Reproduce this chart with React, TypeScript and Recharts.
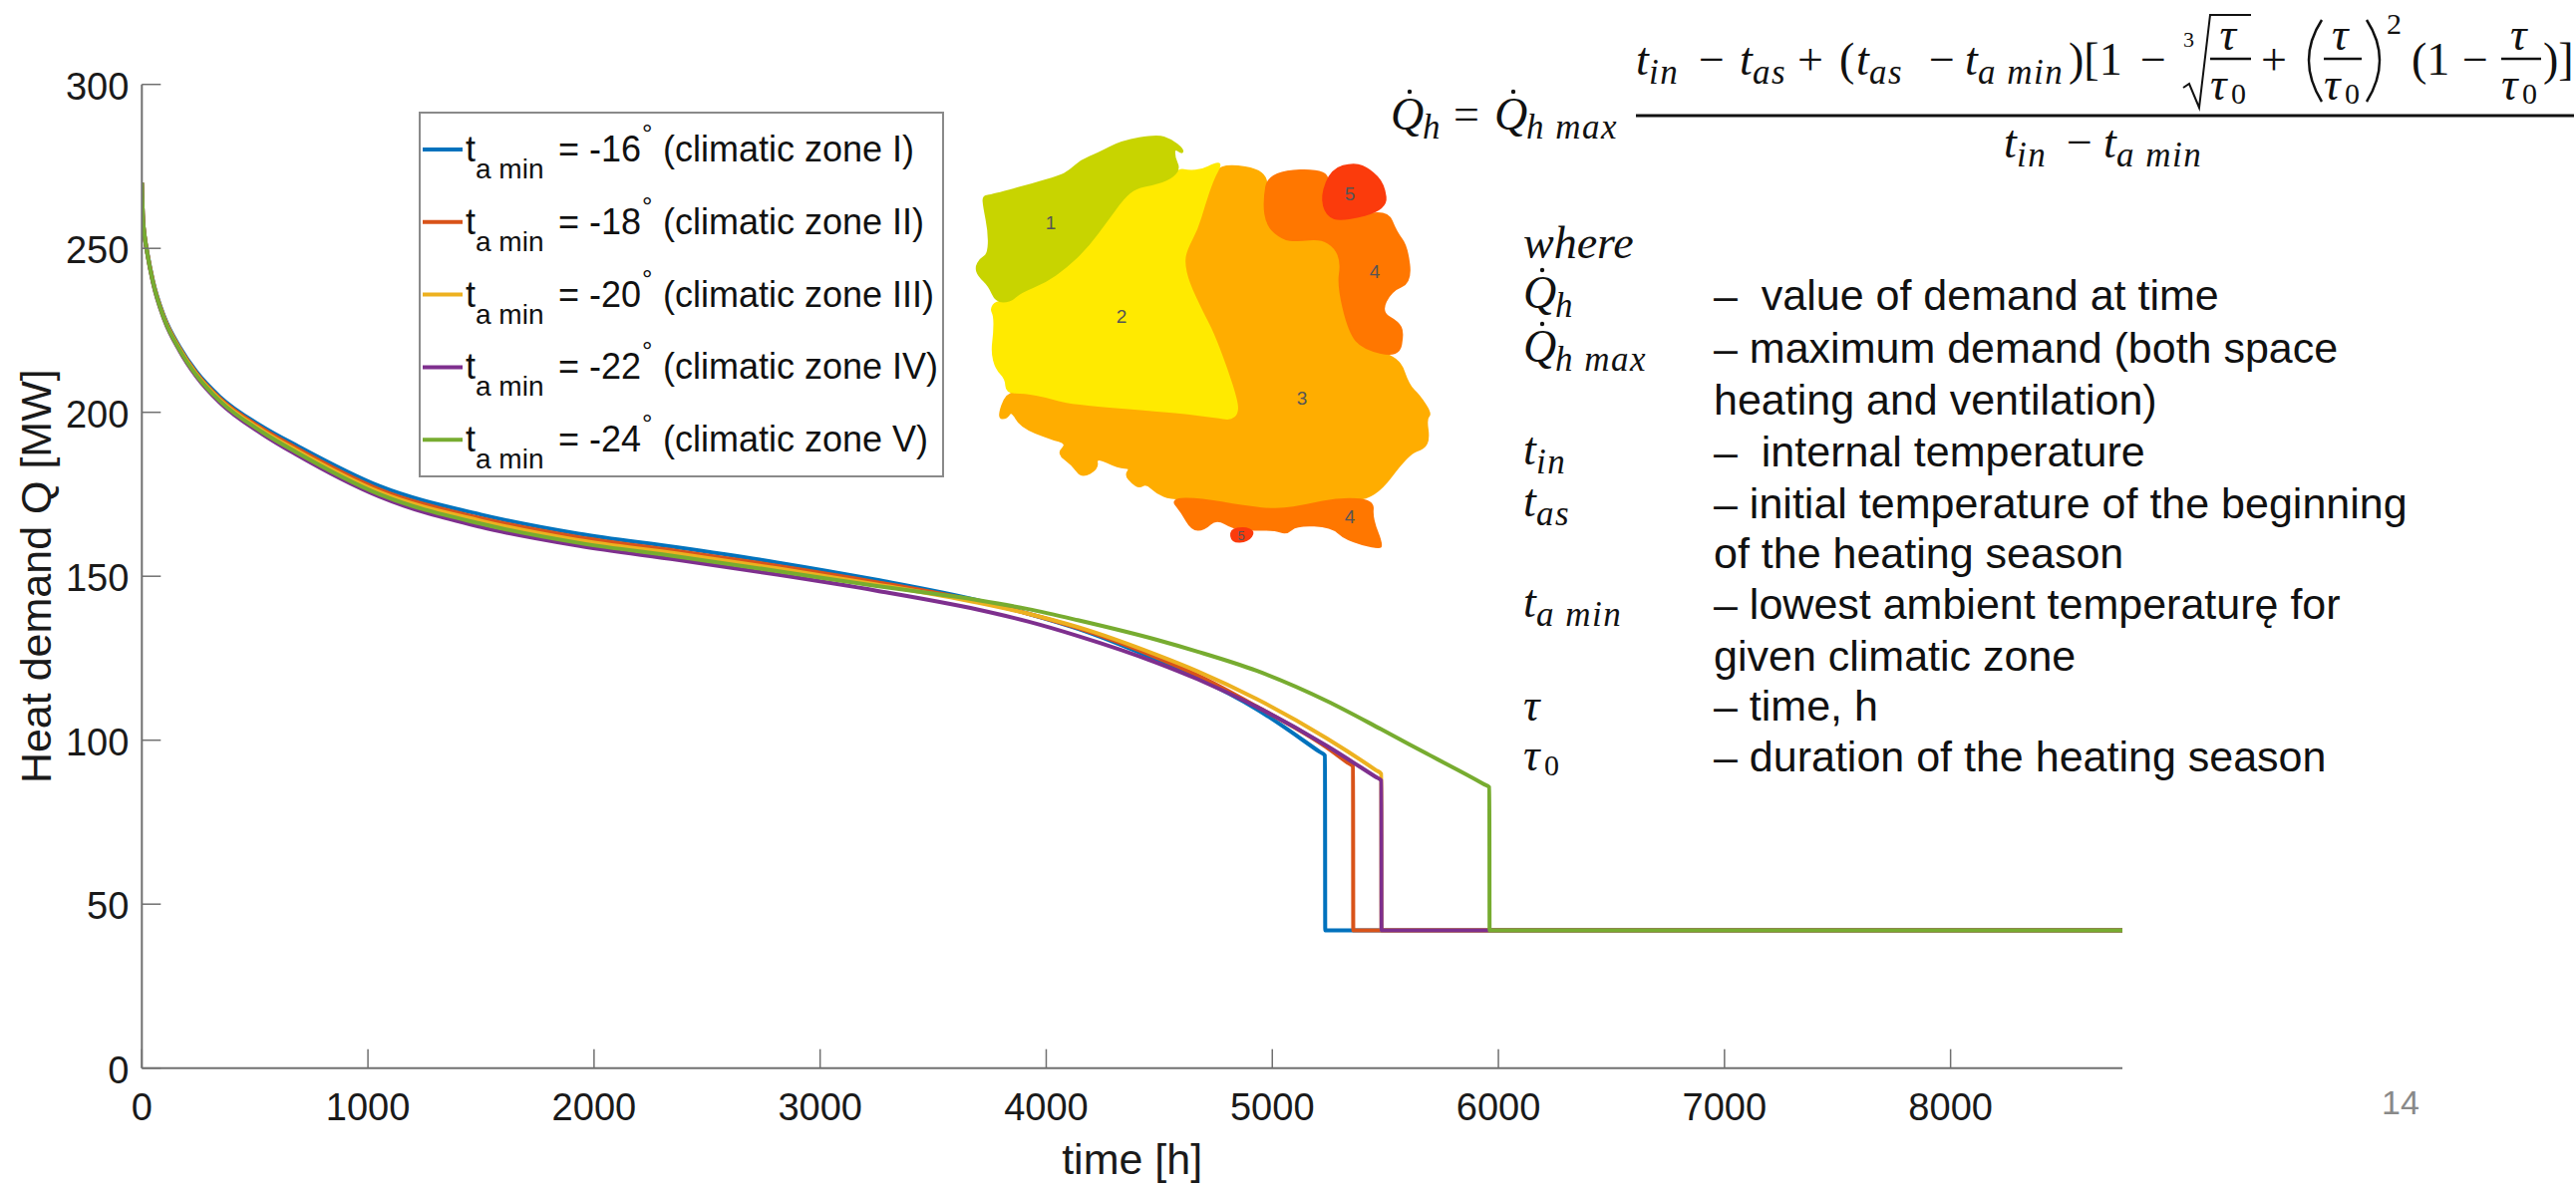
import React from 'react';
import { LineChart, Line, XAxis, YAxis, Legend } from 'recharts';

const curveTimes = [0, 4, 12, 20, 49, 100, 167, 240, 344, 534, 681, 1050, 1500, 1930, 2370, 2810, 3250, 3700, 3920, 4140, 4490, 4670, 4930];
const zone1Values = [270, 260.5, 254, 250.5, 240.2, 229, 220, 212.5, 204.8, 195.6, 190, 177.5, 168.8, 163, 158.8, 154.2, 148.9, 142.6, 138.6, 134, 124.5, 119, 109.5];
const zone2Values = [270, 260.5, 254, 250.3, 240, 228.7, 219.6, 212.1, 204.3, 195, 189.2, 176.5, 167.7, 161.9, 157.7, 153.2, 148.2, 142.3, 138.6, 134.2, 125.2, 119.8, 110.3];
const zone3Values = [270, 260.5, 253.8, 250.2, 239.8, 228.4, 219.3, 211.7, 203.9, 194.4, 188.5, 175.7, 166.9, 161, 156.9, 152.4, 147.5, 141.9, 138.6, 134.5, 126, 121, 112.6];
const zone4Values = [270, 260.5, 253.6, 250, 239.5, 228, 218.7, 211, 203, 193.3, 187.2, 174.3, 165, 159.3, 155, 150.5, 145.6, 139.8, 136.2, 131.8, 123.6, 118.6, 110.2];
const zone5Values = [270, 260.5, 253.8, 250.1, 239.7, 228.2, 219, 211.4, 203.5, 193.9, 187.9, 175, 166, 160.2, 156, 151.6, 147, 142.7, 140, 136.6, 130.6, 127, 121.2];

const zone1TailT = [5208, 5233, 5234, 8760];
const zone1TailQ = [96.5, 95.3, 42, 42];
const zone2TailT = [5240, 5332, 5357, 5358, 8760];
const zone2TailQ = [97.8, 93.2, 92, 42, 42];
const zone3TailT = [5240, 5457, 5482, 5483, 8760];
const zone3TailQ = [100.6, 90.9, 89.7, 42, 42];
const zone4TailT = [5240, 5457, 5482, 5483, 8760];
const zone4TailQ = [98.3, 88.8, 87.7, 42, 42];
const zone5TailT = [5240, 5480, 5680, 5935, 5960, 5961, 8760];
const zone5TailQ = [112, 103.4, 96, 86.6, 85.6, 42, 42];

const xTicks = [0, 1000, 2000, 3000, 4000, 5000, 6000, 7000, 8000];
const yTicks = [0, 50, 100, 150, 200, 250, 300];
const legendTemps = ['-16', '-18', '-20', '-22', '-24'];
const legendZones = ['I', 'II', 'III', 'IV', 'V'];
const seriesColors = ['#0072BD', '#D95319', '#EDB120', '#7E2F8E', '#77AC30'];

const toRows = (ts: number[], qs: number[]) => ts.map((t, i) => ({ t, q: qs[i] }));
const seriesData = [
  toRows([...curveTimes, ...zone1TailT], [...zone1Values, ...zone1TailQ]),
  toRows([...curveTimes, ...zone2TailT], [...zone2Values, ...zone2TailQ]),
  toRows([...curveTimes, ...zone3TailT], [...zone3Values, ...zone3TailQ]),
  toRows([...curveTimes, ...zone4TailT], [...zone4Values, ...zone4TailQ]),
  toRows([...curveTimes, ...zone5TailT], [...zone5Values, ...zone5TailQ]),
];

const SANS = '"Liberation Sans", Arial, sans-serif';
const SERIF = '"Liberation Serif", serif';
const AXIS = '#707070';

const XTick = (p: any) => (
  <g>
    <line x1={p.x} x2={p.x} y1={p.y} y2={p.y - 19} stroke={AXIS} strokeWidth={1.5} />
    <text x={p.x} y={p.y + 52} textAnchor="middle" fontFamily={SANS} fontSize={38} fill="#1a1a1a">{p.payload.value}</text>
  </g>
);
const YTick = (p: any) => (
  <g>
    <line x1={p.x} x2={p.x + 19} y1={p.y} y2={p.y} stroke={AXIS} strokeWidth={1.5} />
    <text x={p.x - 13} y={p.y + 15} textAnchor="end" fontFamily={SANS} fontSize={38} fill="#1a1a1a">{p.payload.value}</text>
  </g>
);

const XTitle = ({ viewBox }: any) => (
  <text x={viewBox.x + viewBox.width / 2} y={viewBox.y + 106} textAnchor="middle" fontFamily={SANS} fontSize={43} fill="#1a1a1a">time [h]</text>
);
const YTitle = ({ viewBox }: any) => (
  <text transform={`translate(${viewBox.x - 90},${viewBox.y + viewBox.height / 2}) rotate(-90)`} textAnchor="middle" fontFamily={SANS} fontSize={43} fill="#1a1a1a">Heat demand Q [MW]</text>
);

const LegendBox = (props: any) => {
  const items = props.payload || [];
  return (
    <svg width={528} height={368} style={{ display: 'block' }}>
      <rect x={1} y={1} width={525} height={365} fill="#fff" stroke="#8a8a8a" strokeWidth={2} />
      {items.map((it: any, i: number) => {
        const y = 38 + i * 72.8;
        return (
          <g key={i} fontFamily={SANS} fill="#111">
            <line x1={4} x2={44} y1={y} y2={y} stroke={it.color} strokeWidth={4} />
            <text x={47} y={y + 12} fontSize={36}>t</text>
            <text x={57} y={y + 29} fontSize={28}>a min</text>
            <text x={140} y={y + 12} fontSize={36}>= {legendTemps[i]}</text>
            <text x={224} y={y - 7} fontSize={26}>°</text>
            <text x={245} y={y + 12} fontSize={36}>(climatic zone {legendZones[i]})</text>
          </g>
        );
      })}
    </svg>
  );
};

const S = ({ x, y, z = 46, i = true, c, ls = 0 }: any) => (
  <text x={x} y={y} fontSize={z} letterSpacing={ls} fontFamily={SERIF} fontStyle={i ? 'italic' : 'normal'} fill="#111">{c}</text>
);
const Sym = ({ x, y, base, sub, dot }: any) => (
  <g>
    <S x={x} y={y} c={base} />
    {dot && <circle cx={x + 19} cy={y - 38} r={2.2} fill="#111" />}
    {sub && <S x={x + (base === 'Q' ? 32 : 13)} y={y + 9} z={35} ls={1.5} c={sub} />}
  </g>
);
const Frac = ({ x, w }: any) => (
  <g>
    <S x={x + w / 2 - 11} y={50} c="τ" />
    <line x1={x} x2={x + w} y1={59} y2={59} stroke="#111" strokeWidth={2.5} />
    <S x={x} y={100} c="τ" />
    <S x={x + 21} y={104} z={30} i={false} c="0" />
  </g>
);

const Formula = () => (
  <g>
    <Sym x={1395} y={130} base="Q" sub="h" dot />
    <S x={1458} y={130} i={false} c="=" />
    <Sym x={1499} y={130} base="Q" sub="h max" dot />
    <line x1={1641} x2={2582} y1={116} y2={116} stroke="#111" strokeWidth={3} />
    <Sym x={1641} y={75} base="t" sub="in" />
    <S x={1704} y={75} i={false} c="−" />
    <Sym x={1745} y={75} base="t" sub="as" />
    <S x={1803} y={75} i={false} c="+" />
    <S x={1845} y={75} i={false} c="(" />
    <Sym x={1862} y={75} base="t" sub="as" />
    <S x={1935} y={75} i={false} c="−" />
    <Sym x={1971} y={75} base="t" sub="a min" />
    <S x={2075} y={75} i={false} c=")[1" />
    <S x={2147} y={75} i={false} c="−" />
    <S x={2190} y={47} z={22} i={false} c="3" />
    <path d="M2190,88 L2196,84 L2206,108 L2217,15 L2258,15" fill="none" stroke="#111" strokeWidth={2} />
    <Frac x={2217} w={41} />
    <S x={2268} y={75} i={false} c="+" />
    <path d="M2329,20 Q2303,60 2329,102" fill="none" stroke="#111" strokeWidth={2.5} />
    <Frac x={2331} w={38} />
    <path d="M2374,20 Q2400,60 2374,102" fill="none" stroke="#111" strokeWidth={2.5} />
    <S x={2394} y={34} z={30} i={false} c="2" />
    <S x={2419} y={75} i={false} c="(1" />
    <S x={2470} y={75} i={false} c="−" />
    <Frac x={2509} w={40} />
    <S x={2551} y={75} i={false} c=")]" />
    <Sym x={2010} y={158} base="t" sub="in" />
    <S x={2073} y={158} i={false} c="−" />
    <Sym x={2110} y={158} base="t" sub="a min" />
  </g>
);

const whereRows = [
  { y: 311, t: '–  value of demand at time' },
  { y: 364, t: '– maximum demand (both space' },
  { y: 416, t: 'heating and ventilation)' },
  { y: 468, t: '–  internal temperature' },
  { y: 520, t: '– initial temperature of the beginning' },
  { y: 570, t: 'of the heating season' },
  { y: 621, t: '– lowest ambient temperaturę for' },
  { y: 673, t: 'given climatic zone' },
  { y: 723, t: '– time, h' },
  { y: 774, t: '– duration of the heating season' },
];

const WhereList = () => (
  <g>
    <S x={1528} y={259} c="where" />
    <Sym x={1528} y={309} base="Q" sub="h" dot />
    <Sym x={1528} y={363} base="Q" sub="h max" dot />
    <Sym x={1528} y={466} base="t" sub="in" />
    <Sym x={1528} y={518} base="t" sub="as" />
    <Sym x={1528} y={619} base="t" sub="a min" />
    <S x={1528} y={723} c="τ" />
    <S x={1528} y={773} c="τ" />
    <S x={1549} y={778} z={30} i={false} c="0" />
    {whereRows.map((r, i) => (
      <text key={i} x={1719} y={r.y} fontFamily={SANS} fontSize={43} fill="#111" xmlSpace="preserve">{r.t}</text>
    ))}
  </g>
);

const mapZones = [
  { fill: '#ffad00', pts: '785,132 920,155 905,250 915,320 960,360 1000,365 1070,358 1110,385 1128,430 1118,500 1150,640 1190,690 1292,715 1320,800 1350,830 1385,885 1370,900 1378,960 1365,990 1320,1005 1220,1145 1120,1140 1030,1160 950,1175 850,1165 720,1140 640,1142 600,1125 570,1095 550,1108 530,1095 510,1070 525,1048 490,1048 425,1015 432,1050 385,1078 360,1040 315,1005 345,975 295,960 210,925 185,875 170,900 145,898 170,822 220,822 290,835 350,855 650,880 770,895 810,903 830,885 830,850 800,750 760,640 730,580 690,490 677,430 685,390 715,330 735,260 760,180' },
  { fill: '#ff7700', pts: '920,155 1100,150 1070,230 1085,290 1130,305 1258,270 1285,340 1315,380 1328,490 1270,515 1240,580 1290,610 1305,640 1292,715 1190,690 1150,640 1118,500 1128,430 1110,385 1070,358 1000,365 960,360 915,320 905,250' },
  { fill: '#fb3b0c', pts: '1100,150 1165,130 1210,150 1250,195 1258,270 1130,305 1085,290 1070,230' },
  { fill: '#ff7700', pts: '640,1142 720,1140 850,1165 950,1175 1030,1160 1120,1140 1220,1145 1215,1200 1245,1280 1235,1292 1140,1265 1100,1225 1000,1220 970,1248 940,1235 880,1235 820,1232 770,1200 735,1235 700,1235 670,1180' },
  { fill: '#fb3b0c', pts: '810,1235 850,1227 880,1240 860,1270 815,1272' },
  { fill: '#ffea00', pts: '140,548 180,548 210,520 280,490 340,445 400,385 460,300 505,235 540,205 590,195 640,178 665,148 690,155 730,152 765,133 785,132 760,180 735,260 715,330 685,390 677,430 690,490 730,580 760,640 800,750 830,850 830,885 810,903 770,895 650,880 350,855 290,835 220,822 170,822 168,780 140,750 128,700 135,640 135,590 125,570' },
  { fill: '#c8d400', pts: '103,230 130,228 320,172 350,155 385,122 430,103 500,65 600,47 640,60 675,90 672,102 650,85 650,115 665,148 640,178 590,195 540,205 505,235 460,300 400,385 340,445 280,490 210,520 180,548 140,548 120,500 90,470 82,445 95,420 118,405 120,340 105,260' },
];
const mapLabels = [
  { c: '1', x: 1054, y: 230, z: 19 },
  { c: '2', x: 1125, y: 324, z: 19 },
  { c: '3', x: 1306, y: 406, z: 19 },
  { c: '4', x: 1379, y: 279, z: 19 },
  { c: '5', x: 1354, y: 201, z: 19 },
  { c: '4', x: 1354, y: 525, z: 19 },
  { c: '5', x: 1245, y: 542, z: 13 },
];

// rounds the corners of a closed outline through the midpoints of its edges
const smoothOutline = (pts: string) => {
  const p = pts.split(' ').map((s) => s.split(',').map(Number));
  const mid = (a: number[], b: number[]) => [(a[0] + b[0]) / 2, (a[1] + b[1]) / 2];
  const start = mid(p[p.length - 1], p[0]);
  let d = `M${start[0]},${start[1]}`;
  p.forEach((c, i) => {
    const m = mid(c, p[(i + 1) % p.length]);
    d += ` Q${c[0]},${c[1]} ${m[0]},${m[1]}`;
  });
  return d + ' Z';
};

const PolandMap = () => (
  <g>
    <g transform="translate(950,120) scale(0.35075,0.33333)">
      {mapZones.map((z, i) => (
        <path key={i} d={smoothOutline(z.pts)} fill={z.fill} stroke={z.fill} strokeWidth={5} strokeLinejoin="round" />
      ))}
    </g>
    {mapLabels.map((l, i) => (
      <text key={i} x={l.x} y={l.y} textAnchor="middle" fontFamily={SANS} fontSize={l.z} fill="#555">{l.c}</text>
    ))}
  </g>
);

export default function App() {
  return (
    <div style={{ position: 'absolute', left: 0, top: 0, width: 2584, height: 1189, background: '#fff', overflow: 'hidden' }}>
      <LineChart
        width={2584}
        height={1189}
        margin={{ left: 141.3, top: 84.7, right: 455, bottom: 116.3 }}
      >
        <XAxis
          type="number"
          dataKey="t"
          domain={[0, 8760]}
          ticks={xTicks}
          height={1}
          tickSize={0}
          tickMargin={0}
          tickLine={false}
          tick={XTick}
          interval={0}
          allowDataOverflow
          axisLine={{ stroke: AXIS, strokeWidth: 2 }}
          label={{ content: XTitle }}
        />
        <YAxis
          type="number"
          domain={[0, 300]}
          ticks={yTicks}
          width={1}
          tickSize={0}
          tickMargin={0}
          tickLine={false}
          tick={YTick}
          interval={0}
          axisLine={{ stroke: AXIS, strokeWidth: 2 }}
          label={{ content: YTitle }}
        />
        {seriesData.map((d, i) => (
          <Line
            key={i}
            data={d}
            dataKey="q"
            name={`t a min = ${legendTemps[i]}° (climatic zone ${legendZones[i]})`}
            stroke={seriesColors[i]}
            strokeWidth={4}
            dot={false}
            type="monotoneX"
            isAnimationActive={false}
          />
        ))}
        <Legend
          layout="vertical"
          align="center"
          verticalAlign="middle"
          content={LegendBox}
          wrapperStyle={{ position: 'absolute', left: 420, top: 112, width: 528, height: 368, margin: 0 }}
        />
      </LineChart>
      <svg width={2584} height={1189} style={{ position: 'absolute', left: 0, top: 0, pointerEvents: 'none' }}>
        <PolandMap />
        <Formula />
        <WhereList />
        <text x={2389} y={1118} fontFamily={SANS} fontSize={34} fill="#898989">14</text>
      </svg>
    </div>
  );
}
